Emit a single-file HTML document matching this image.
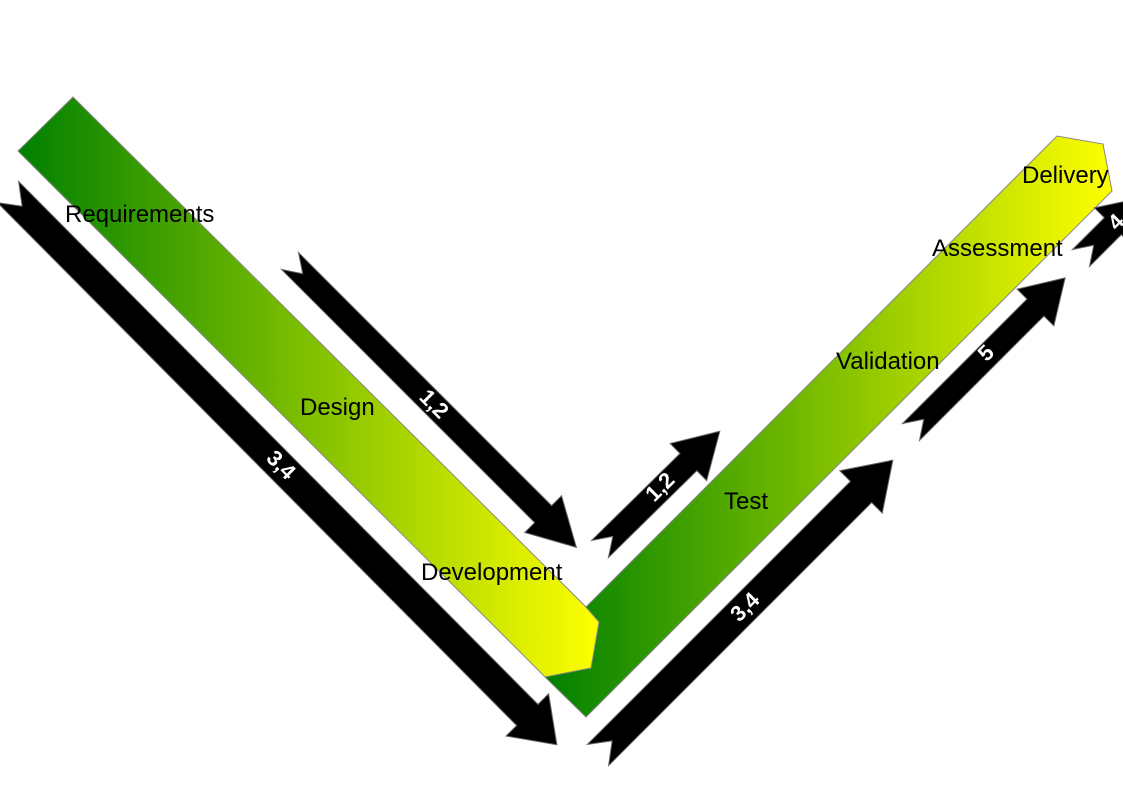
<!DOCTYPE html>
<html><head><meta charset="utf-8"><style>
html,body{margin:0;padding:0;background:#fff;}
svg{display:block;}
text{font-family:"Liberation Sans",sans-serif;}
</style></head><body>
<svg width="1123" height="794" viewBox="0 0 1123 794" xmlns="http://www.w3.org/2000/svg">
<defs>
<linearGradient id="gL" x1="18" y1="0" x2="599" y2="0" gradientUnits="userSpaceOnUse">
<stop offset="0" stop-color="#008000"/><stop offset="1" stop-color="#ffff00"/></linearGradient>
<linearGradient id="gR" x1="545" y1="0" x2="1112" y2="0" gradientUnits="userSpaceOnUse">
<stop offset="0" stop-color="#008000"/><stop offset="1" stop-color="#ffff00"/></linearGradient>
</defs>
<polygon points="545,677 545,648 1057,136 1103,144 1112,191 586,717" fill="url(#gR)" stroke="#888" stroke-width="1"/>
<polygon points="73,97 585,606 599,622 591,668 545,677 18,151" fill="url(#gL)" stroke="#888" stroke-width="1"/>

<g fill="#000" stroke="#666" stroke-width="1">
<g transform="translate(8,192) rotate(45.2)"><polygon points="0,-15 737,-15 737,-30 779,0 737,30 737,15 0,15 20,0"/></g>
<g transform="translate(290,261) rotate(45)"><polygon points="0,-12 358,-12 358,-26 405,0 358,26 358,12 0,12 18,0"/></g>
<g transform="translate(600,549) rotate(-44.5)"><polygon points="0,-12 124,-12 124,-26 168,0 124,26 124,12 0,12 18,0"/></g>
<g transform="translate(598,755) rotate(-45)"><polygon points="0,-15 372,-15 372,-30 417,0 372,30 372,15 0,15 20,0"/></g>
<g transform="translate(911,432) rotate(-45)"><polygon points="0,-12 176,-12 176,-26 218,0 176,26 176,12 0,12 18,0"/></g>
<g transform="translate(1081,258) rotate(-45)"><polygon points="0,-12 45,-12 45,-26 85,0 45,26 45,12 0,12 18,0"/></g>
</g>

<g fill="#fff" font-weight="bold" font-size="22">
<text transform="translate(280,466) rotate(45)" text-anchor="middle" dominant-baseline="middle">3,4</text>
<text transform="translate(433,405) rotate(45)" text-anchor="middle" dominant-baseline="middle">1,2</text>
<text transform="translate(661,488) rotate(-45)" text-anchor="middle" dominant-baseline="middle">1,2</text>
<text transform="translate(746,608) rotate(-45)" text-anchor="middle" dominant-baseline="middle">3,4</text>
<text transform="translate(987,354) rotate(-45)" text-anchor="middle" dominant-baseline="middle">5</text>
<text transform="translate(1117,223) rotate(-45)" text-anchor="middle" dominant-baseline="middle">4</text>
</g>

<g fill="#000" font-size="24">
<text x="65" y="222">Requirements</text>
<text x="300" y="415">Design</text>
<text x="421" y="580">Development</text>
<text x="724" y="509">Test</text>
<text x="836" y="369">Validation</text>
<text x="932" y="256">Assessment</text>
<text x="1022" y="183">Delivery</text>
</g>
</svg>
</body></html>
